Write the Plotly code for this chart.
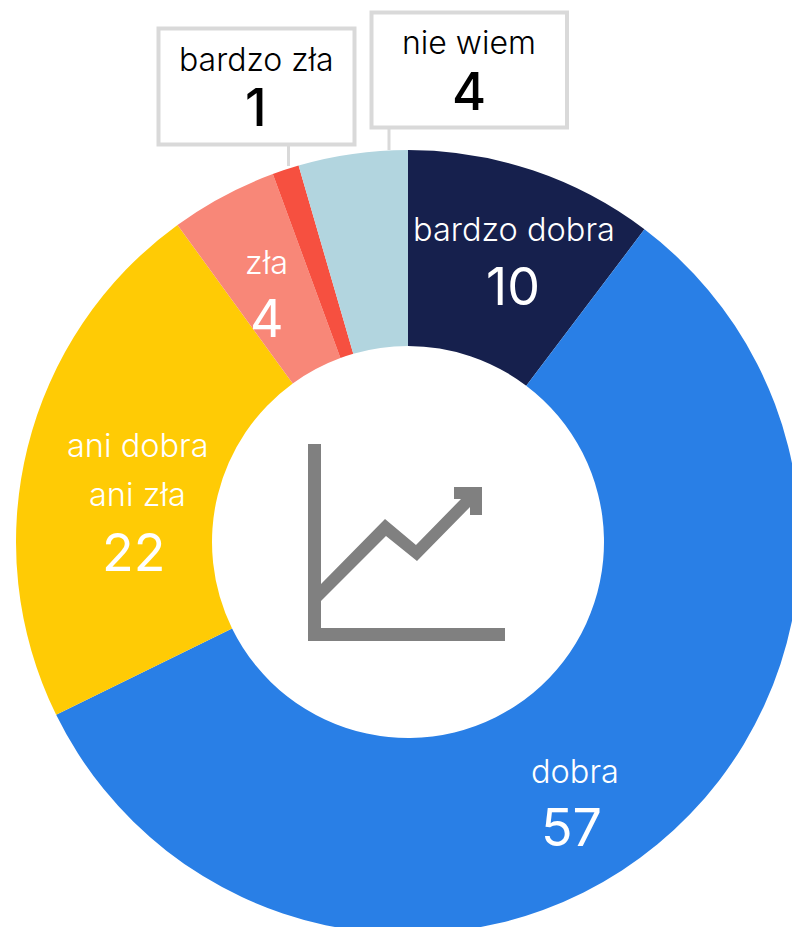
import plotly.graph_objects as go

categories = ["bardzo dobra", "dobra", "ani dobra<br>ani zła", "zła", "bardzo zła", "nie wiem"]
shown_values = [10, 57, 22, 4, 1, 4]
slice_values = [10.3, 57.4, 22.25, 4.4, 1.1, 4.5]
colors = ["#16204d", "#297fe6", "#ffcb05", "#f88778", "#f65040", "#b2d5df"]

W, H = 830, 950
CX, CY, R = 408, 542, 392
def px(x): return x / W
def py(y): return 1 - y / H
def path(points):
    return "M " + " L ".join(f"{px(x):.5f},{py(y):.5f}" for x, y in points) + " Z"

fig = go.Figure(go.Pie(
    labels=[c.replace("<br>", " ") for c in categories],
    values=slice_values,
    hole=0.5,
    sort=False,
    direction="clockwise",
    rotation=0,
    marker=dict(colors=colors, line=dict(width=0)),
    textinfo="none",
    hoverinfo="label",
    showlegend=False,
    domain=dict(x=[px(CX - R), px(CX + R)], y=[py(CY + R), py(CY - R)]),
))

FONT = "Inter"
shapes = []
G = "#d9d9d9"
for x0, y0, x1, y1 in [(158.5, 28.5, 354.5, 144.5), (371.5, 12.5, 567, 127.5)]:
    shapes.append(dict(type="rect", xref="paper", yref="paper", x0=px(x0), x1=px(x1), y0=py(y0), y1=py(y1),
                       line=dict(color=G, width=4), fillcolor="white"))
for x, y0, y1 in [(288.5, 146, 166), (389, 129, 150)]:
    shapes.append(dict(type="line", xref="paper", yref="paper", x0=px(x), x1=px(x), y0=py(y0), y1=py(y1),
                       line=dict(color=G, width=3)))
ICON = "#808080"
for pts in [
    [(308, 444), (321, 444), (321, 628), (505, 628), (505, 641), (308, 641)],
    [(321, 584), (385, 519), (416, 545), (461, 499), (454, 499), (454, 487), (482, 487),
     (482, 515), (470, 515), (470, 507), (417, 561), (386, 536), (321, 601)],
]:
    shapes.append(dict(type="path", xref="paper", yref="paper", path=path(pts), fillcolor=ICON, line=dict(width=0)))

label_pos = [
    ([(514, 230)], (513, 286), "white"),
    ([(575, 771)], (571, 827), "white"),
    ([(138, 446), (137, 495)], (133, 552), "white"),
    ([(266, 262)], (267, 318), "white"),
    ([(256, 59)], (256, 107), "black"),
    ([(469, 42)], (469, 91), "black"),
]
annotations = []
for cat, val, (lines, num, col) in zip(categories, shown_values, label_pos):
    label_size = 32.5 if col == "white" else 32
    for text, (x, y) in zip(cat.split("<br>"), lines):
        annotations.append(dict(text=text, x=px(x), y=py(y), xref="paper", yref="paper", showarrow=False,
                                xanchor="center", yanchor="middle",
                                font=dict(family=FONT, size=label_size, color=col, weight=300)))
    annotations.append(dict(text=str(val), x=px(num[0]), y=py(num[1]), xref="paper", yref="paper", showarrow=False,
                            xanchor="center", yanchor="middle",
                            font=dict(family=FONT, size=52, color=col, weight=400 if col == "white" else 500)))

fig.update_layout(width=W, height=H, margin=dict(l=0, r=0, t=0, b=0), autosize=False,
                  paper_bgcolor="white", plot_bgcolor="white", shapes=shapes, annotations=annotations)

fig.write_html("out.html", config=dict(displayModeBar=False),
               post_script="document.body.style.margin='0';document.documentElement.style.overflow='hidden';document.body.style.overflow='hidden';")
